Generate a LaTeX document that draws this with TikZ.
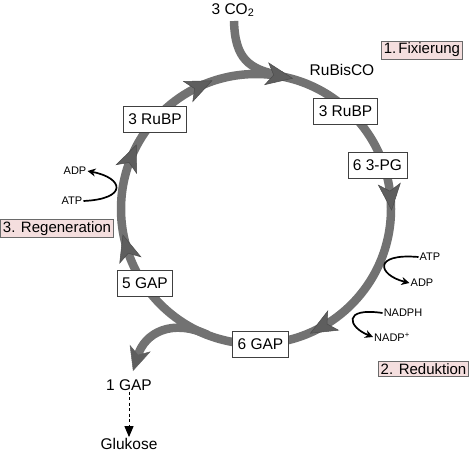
\documentclass[tikz,border=0pt]{standalone}
\usepackage{fontspec}
\setmainfont{Liberation Sans}
\usetikzlibrary{arrows.meta,decorations.markings}
\definecolor{cycgray}{HTML}{727272}
\definecolor{arrgray}{HTML}{5E5E5E}
\definecolor{boxline}{HTML}{404040}
\definecolor{pinkfill}{HTML}{F4DEDE}
\definecolor{pinkline}{HTML}{6A6A6A}
\newcommand\ringhead{\fill[arrgray, draw=arrgray!80!black, line width=0.5pt] (13,0) -- (-13,11) -- (-6,0) -- (-13,-11) -- cycle;}
\begin{document}
\begin{tikzpicture}[x=1pt,y=-1pt,
  cyc/.style={line width=8.5pt, draw=cycgray},
  stagebox/.style={draw=boxline, fill=white, line width=0.8pt, minimum height=26pt, inner xsep=5pt, inner ysep=2pt, font=\fontsize{15.5}{18}\selectfont},
  phase/.style={draw=pinkline, fill=pinkfill, line width=0.8pt, inner xsep=2.5pt, inner ysep=2pt, font=\fontsize{15}{17}\selectfont},
  lbl/.style={inner sep=1pt, font=\fontsize{15.5}{18}\selectfont},
  sml/.style={inner sep=1pt, font=\fontsize{11}{13}\selectfont},
  react/.style={line width=1.7pt, draw=black, -{Stealth[length=8pt,width=8pt,inset=2.5pt]}}
]
\useasboundingbox (0,0) rectangle (474,455);
\coordinate (c) at (256,209);

% CO2 inflow
\node[lbl] (co2) at (233,10) {3 CO\textsubscript{2}};
\coordinate (co2s) at (234,21);
\coordinate (co2e) at (282,75.5);
\draw[cyc] (co2s) .. controls (235,58) and (248,70) .. (co2e);

% Calvin cycle ring
\draw[cyc, postaction={decorate}, decoration={markings,
   mark=at position 0.169 with {\ringhead},
   mark=at position 0.454 with {\ringhead},
   mark=at position 0.563 with {\ringhead},
   mark=at position 0.682 with {\ringhead},
   mark=at position 0.778 with {\ringhead},
   mark=at position 0.986 with {\ringhead}}]
   (c) ++(135,0) arc[start angle=0, end angle=360, radius=135];

% branch to 1 GAP
\coordinate (brs) at (208,335);
\node[lbl] (gap1) at (129,385) {1 GAP};
\draw[cyc, -{Stealth[length=24pt,width=22pt,inset=7pt,line width=0.5pt,color=arrgray]}]
   (brs) .. controls (172,318) and (145,333) .. (133,371);

% glucose
\node[lbl] (glu) at (129,444) {Glukose};
\draw[line width=1pt, dashed, dash pattern=on 3pt off 2.5pt, -{Triangle[length=11pt,width=9pt]}] (gap1.south) -- (glu.north);

% stage boxes
\node[stagebox] (rubpR) at (345.5,111.5) {3 RuBP};
\node[stagebox] (pg) at (377.5,165.5) {6 3-PG};
\node[stagebox] (gap6) at (260.5,344.5) {6 GAP};
\node[stagebox] (gap5) at (145,283) {5 GAP};
\node[stagebox] (rubpL) at (155,119.5) {3 RuBP};

\node[lbl] (rub) at (342,70) {RuBisCO};

% phase labels
\node[phase] (fix) at (422,50) {1.\kern2pt Fixierung};
\node[phase] (red) at (423.5,369) {2. Reduktion};
\node[phase] (reg) at (57,228.5) {3. Regeneration};

% cofactors
\node[sml] (atpL) at (72,201) {ATP};
\node[sml] (adpL) at (75,171) {ADP};
\draw[react] (atpL.east) .. controls (128,199) and (124,178) .. (adpL.east);

\node[sml] (atpR) at (430,257) {ATP};
\node[sml] (adpR) at (422,283) {ADP};
\draw[react] (atpR.west) .. controls (372,253) and (378,275) .. (adpR.west);

\node[sml] (nadph) at (403,313) {NADPH};
\node[sml] (nadp) at (392,337) {NADP\textsuperscript{+}};
\draw[react] (nadph.west) .. controls (342,307) and (348,327) .. (nadp.west);
\end{tikzpicture}
\end{document}
